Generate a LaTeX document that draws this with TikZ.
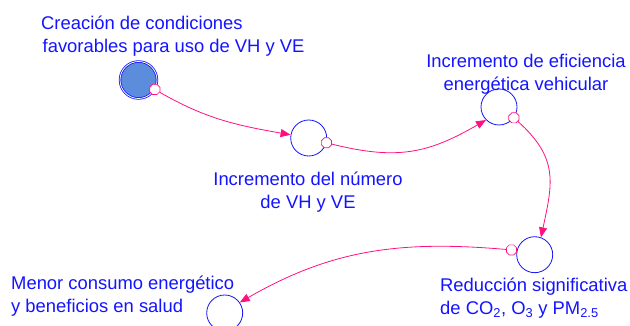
\documentclass[tikz,border=0pt]{standalone}
\usepackage{fontspec}
\setmainfont{Liberation Sans}
\usetikzlibrary{arrows.meta,positioning,shapes.geometric}
\definecolor{varblue}{RGB}{20,20,255}
\definecolor{varfill}{RGB}{92,140,220}
\definecolor{linkpink}{RGB}{255,16,128}
\begin{document}
\begin{tikzpicture}[x=1pt,y=1pt,>={Triangle[length=10pt,width=8pt]},
  every node/.style={font=\fontsize{18.4}{22.5}\selectfont,text=varblue},
  var/.style={circle,draw=varblue,line width=0.8pt,minimum size=36pt,inner sep=0pt},
  tail/.style={regular polygon,regular polygon sides=8,draw=linkpink,fill=white,line width=0.7pt,minimum size=11pt,inner sep=0pt},
  link/.style={->,draw=linkpink,line width=0.8pt},
  lbl/.style={inner sep=0pt}]
\useasboundingbox (0,0) rectangle (630,326);
% variables
\node[var,fill=varfill,double=white,double distance=0.8pt,minimum size=37pt] (cond) at (138.5,246) {};
\node[var] (num) at (308.7,188) {};
\node[var] (efic) at (499,219) {};
\node[var] (red) at (534.7,71.3) {};
\node[var] (salud) at (224.7,13) {};
% labels
\node[lbl,align=left,anchor=north west] (tcond) at (41,310) {Creación de condiciones\\\hspace*{1.5pt}favorables para uso de VH y VE};
\node[lbl,align=center,anchor=north] (tnum) at (308,154) {Incremento del número\\de VH y VE};
\node[lbl,align=center,anchor=north] (tefic) at (526,272) {Incremento de eficiencia\\energética vehicular};
\node[lbl,align=left,anchor=north west] (tred) at (440,48) {Reducción significativa\\ de CO\textsubscript{2}, O\textsubscript{3} y PM\textsubscript{2.5}};
\node[lbl,align=left,anchor=north west] (tsalud) at (11,50) {Menor consumo energético\\y beneficios en salud};
% links
\node[tail] (mcond) at (cond.-30) {};
\node[tail] (mnum) at (num.-15) {};
\node[tail] (mefic) at (efic.-36) {};
\node[tail,left=0pt of red.165] (mred) {};
\draw[link] (mcond) to[out=-30,in=170] (num);
\draw[link] (mnum) to[out=-14,in=210,looseness=1.1] (efic.225);
\draw[link] (mefic) to[out=-42,in=78,looseness=1.2] (red.70);
\draw[link] (mred) to[out=175,in=30] (salud.35);
\end{tikzpicture}
\end{document}
